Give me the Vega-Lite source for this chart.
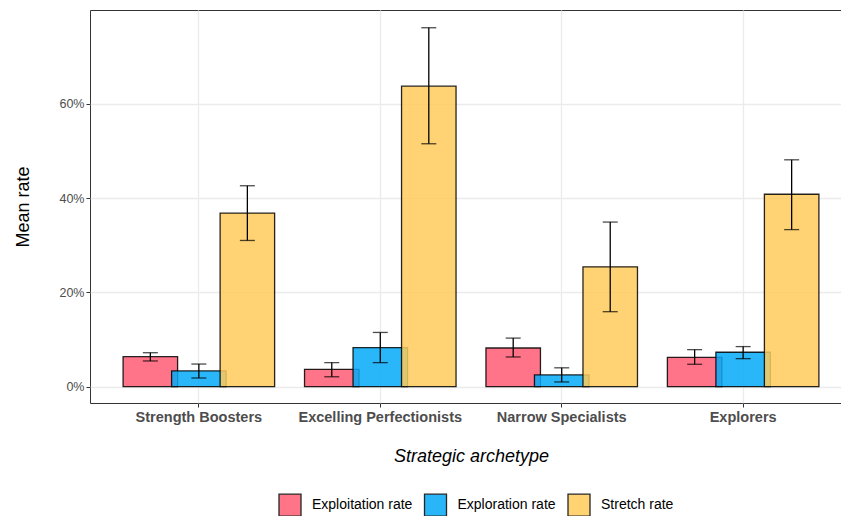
{
  "$schema": "https://vega.github.io/schema/vega-lite/v6.json",
  "width": 751,
  "height": 393,
  "autosize": {"type": "none"},
  "padding": {"left": 90, "top": 10, "right": 0, "bottom": 113},
  "background": "white",
  "config": {
    "font": "Liberation Sans",
    "view": {"stroke": "#333333", "strokeWidth": 1}
  },
  "data": {
    "values": [
      {"archetype": "Strength Boosters", "measure": "Exploitation rate", "mean": 0.0636, "lo": 0.0545, "hi": 0.072},
      {"archetype": "Strength Boosters", "measure": "Exploration rate", "mean": 0.0333, "lo": 0.0184, "hi": 0.048},
      {"archetype": "Strength Boosters", "measure": "Stretch rate", "mean": 0.368, "lo": 0.31, "hi": 0.426},
      {"archetype": "Excelling Perfectionists", "measure": "Exploitation rate", "mean": 0.0368, "lo": 0.021, "hi": 0.051},
      {"archetype": "Excelling Perfectionists", "measure": "Exploration rate", "mean": 0.0827, "lo": 0.051, "hi": 0.115},
      {"archetype": "Excelling Perfectionists", "measure": "Stretch rate", "mean": 0.637, "lo": 0.515, "hi": 0.761},
      {"archetype": "Narrow Specialists", "measure": "Exploitation rate", "mean": 0.082, "lo": 0.063, "hi": 0.103},
      {"archetype": "Narrow Specialists", "measure": "Exploration rate", "mean": 0.025, "lo": 0.01, "hi": 0.04},
      {"archetype": "Narrow Specialists", "measure": "Stretch rate", "mean": 0.254, "lo": 0.159, "hi": 0.349},
      {"archetype": "Explorers", "measure": "Exploitation rate", "mean": 0.0623, "lo": 0.0475, "hi": 0.0785},
      {"archetype": "Explorers", "measure": "Exploration rate", "mean": 0.073, "lo": 0.0594, "hi": 0.085},
      {"archetype": "Explorers", "measure": "Stretch rate", "mean": 0.408, "lo": 0.333, "hi": 0.481}
    ]
  },
  "encoding": {
    "x": {
      "field": "archetype",
      "type": "nominal",
      "scale": {
        "domain": ["Strength Boosters", "Excelling Perfectionists", "Narrow Specialists", "Explorers"],
        "range": [0, 762],
        "paddingInner": 0,
        "paddingOuter": 0.1
      },
      "axis": {
        "title": "Strategic archetype",
        "titleFont": "Liberation Sans",
        "titleFontStyle": "italic",
        "titleFontWeight": "normal",
        "titleFontSize": 18,
        "titleColor": "#000000",
        "titlePadding": 24,
        "labelAngle": 0,
        "labelFontWeight": "bold",
        "labelFontSize": 14.5,
        "labelColor": "#4D4D4D",
        "labelPadding": 3,
        "tickColor": "#333333",
        "tickSize": 4,
        "domain": false,
        "grid": true,
        "gridColor": "#EBEBEB",
        "gridWidth": 1.3,
        "bandPosition": 0.5
      }
    },
    "xOffset": {
      "field": "measure",
      "type": "nominal",
      "scale": {
        "domain": ["Exploitation rate", "Exploration rate", "Stretch rate"],
        "paddingInner": 0,
        "paddingOuter": 0.37
      }
    }
  },
  "layer": [
    {
      "mark": {
        "type": "bar",
        "width": 54.5,
        "fillOpacity": 0.85,
        "stroke": "#000000",
        "strokeOpacity": 0.85,
        "strokeWidth": 1.3
      },
      "encoding": {
        "y": {
          "field": "mean",
          "type": "quantitative",
          "scale": {"domain": [-0.0346, 0.7986], "nice": false, "zero": false},
          "axis": {
            "title": "Mean rate",
            "titleFontSize": 18,
            "titleFontWeight": "normal",
            "titleColor": "#000000",
            "titlePadding": 26,
            "values": [0, 0.2, 0.4, 0.6],
            "format": ".0%",
            "labelFontSize": 12.5,
            "labelColor": "#4D4D4D",
            "labelPadding": 2,
            "tickColor": "#333333",
            "tickSize": 4,
            "domain": false,
            "grid": true,
            "gridColor": "#EBEBEB",
            "gridWidth": 1.3
          }
        },
        "y2": {"datum": 0},
        "fill": {
          "field": "measure",
          "type": "nominal",
          "scale": {
            "domain": ["Exploitation rate", "Exploration rate", "Stretch rate"],
            "range": ["#FF5C73", "#03AAF9", "#FFCB5A"]
          },
          "legend": {
            "title": null,
            "orient": "none",
            "direction": "horizontal",
            "legendX": 188,
            "legendY": 483,
            "symbolType": "square",
            "symbolSize": 484,
            "symbolStrokeColor": "#000000",
            "symbolStrokeWidth": 1.3,
            "symbolOpacity": 0.85,
            "labelFontSize": 14,
            "labelColor": "#000000",
            "labelOffset": 10,
            "columnPadding": 8.5
          }
        }
      }
    },
    {
      "mark": {"type": "rule", "color": "#000000", "strokeWidth": 1.3},
      "encoding": {
        "y": {"field": "lo", "type": "quantitative"},
        "y2": {"field": "hi"}
      }
    },
    {
      "mark": {"type": "tick", "color": "#000000", "size": 15, "thickness": 1.3, "orient": "horizontal"},
      "encoding": {
        "y": {"field": "lo", "type": "quantitative"}
      }
    },
    {
      "mark": {"type": "tick", "color": "#000000", "size": 15, "thickness": 1.3, "orient": "horizontal"},
      "encoding": {
        "y": {"field": "hi", "type": "quantitative"}
      }
    }
  ]
}
